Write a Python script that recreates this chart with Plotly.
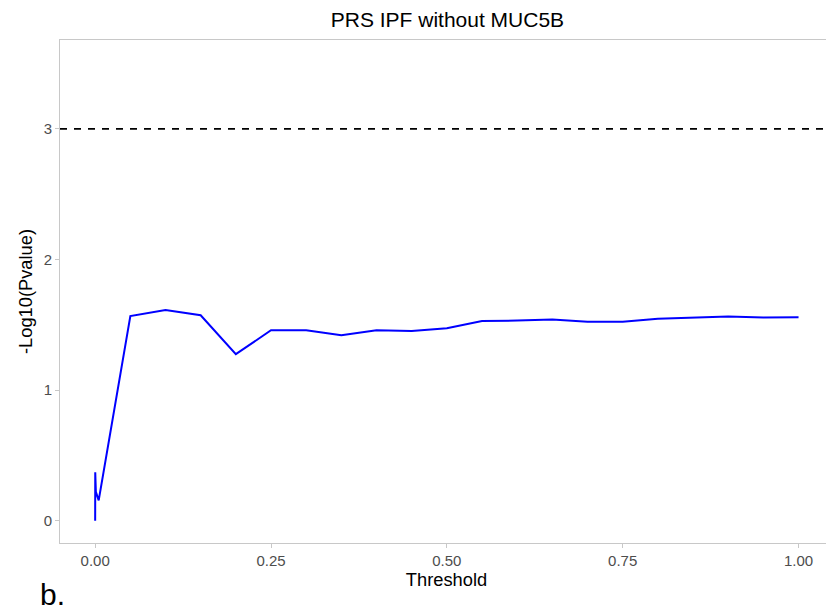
import plotly.graph_objects as go

threshold = [0.0, 0.0001, 0.001, 0.005, 0.05, 0.1, 0.15, 0.2, 0.25, 0.3, 0.35, 0.4, 0.45,
             0.5, 0.55, 0.6, 0.65, 0.7, 0.75, 0.8, 0.85, 0.9, 0.95, 1.0]
neglog10p = [0.0, 0.37, 0.22, 0.155, 1.567, 1.613, 1.573, 1.275, 1.458, 1.458, 1.42, 1.458, 1.453,
             1.473, 1.529, 1.532, 1.54, 1.524, 1.524, 1.547, 1.557, 1.563, 1.555, 1.557]
sig_line = 3
x_ticks = [0, 0.25, 0.5, 0.75, 1.0]
x_tick_labels = ["0.00", "0.25", "0.50", "0.75", "1.00"]
y_ticks = [0, 1, 2, 3]
y_tick_labels = ["0", "1", "2", "3"]

fig = go.Figure()
fig.add_trace(go.Scatter(x=threshold, y=neglog10p, mode="lines",
                         line=dict(color="#0000FF", width=2), showlegend=False))
fig.add_hline(y=sig_line, line=dict(color="black", width=1.8, dash="7px,7px"))

font = "Liberation Sans, Arial, Helvetica, sans-serif"
# page body has an 8px margin, so the figure is sized to fit the 834x613 window
fig.update_layout(
    width=826, height=605,
    margin=dict(l=52, r=1, t=32, b=70),
    plot_bgcolor="white", paper_bgcolor="white",
    font=dict(family=font, color="black"),
    title=dict(text="PRS IPF without MUC5B", x=0.532, xanchor="center",
               y=1 - 12 / 605, yanchor="middle",
               font=dict(size=21, color="black", family=font)),
    xaxis=dict(range=[-0.05, 1.049], tickvals=x_ticks, ticktext=x_tick_labels,
               automargin=False,
               showgrid=False, zeroline=False, showline=True, mirror=True,
               linecolor="#c8c8c8", linewidth=1, ticks="outside", ticklen=4,
               tickcolor="#c8c8c8", tickfont=dict(size=15, color="#4d4d4d"),
               title=dict(text="Threshold", font=dict(size=18.3, color="black"), standoff=3)),
    yaxis=dict(range=[-0.171, 3.681], tickvals=y_ticks, ticktext=y_tick_labels,
               automargin=False,
               showgrid=False, zeroline=False, showline=True, mirror=True,
               linecolor="#c8c8c8", linewidth=1, ticks="outside", ticklen=4,
               tickcolor="#c8c8c8", tickfont=dict(size=15, color="#4d4d4d"),
               title=dict(text="-Log10(Pvalue)", font=dict(size=18.3, color="black"), standoff=6)),
)
fig.add_annotation(text="b.", xref="paper", yref="paper", x=-0.0103, y=-0.1014,
                   xanchor="center", yanchor="middle", showarrow=False,
                   font=dict(size=30, color="black", family=font))
fig.write_html("out.html")
